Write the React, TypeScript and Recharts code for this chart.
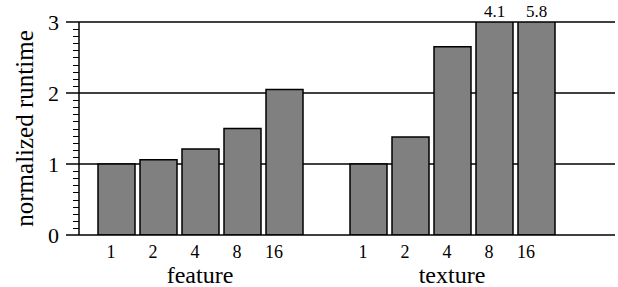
import { BarChart, Bar, XAxis, YAxis, CartesianGrid, LabelList, Label } from 'recharts';

const GROUPS = ['feature', 'texture'];
const THREADS = ['1', '2', '4', '8', '16'];
const FEATURE = [1.0, 1.06, 1.21, 1.5, 2.05];
const TEXTURE = [1.0, 1.38, 2.65, 4.1, 5.8];
const Y_MAX = 3;
const MAJOR_TICKS = [0, 1, 2, 3];
const GRID_LINES = [1, 2, 3];
const MINOR_PER_UNIT = 10;

const FONT = '"Liberation Serif", "Times New Roman", serif';

type Row = { id: string; label: string; group: string; mid: boolean; value: number | null; shown: number | null };

const makeRows = (group: string, values: number[]): Row[] =>
  values.map((v, i) => ({
    id: `${group}-${THREADS[i]}`,
    label: THREADS[i],
    group,
    mid: i === Math.floor(THREADS.length / 2),
    value: v,
    shown: Math.min(v, Y_MAX),
  }));

const data: Row[] = [
  ...makeRows(GROUPS[0], FEATURE),
  { id: 'gap', label: '', group: '', mid: false, value: null, shown: null },
  ...makeRows(GROUPS[1], TEXTURE),
];

// 0, 0.1, ... 3 so the axis can draw its minor ticks
const yTicks: number[] = [];
for (let i = 0; i <= Y_MAX * MINOR_PER_UNIT; i++) yTicks.push(i / MINOR_PER_UNIT);

const YTick = (props: any) => {
  const { x, y, payload } = props;
  const v = payload.value;
  const major = MAJOR_TICKS.some((m) => Math.abs(m - v) < 1e-6);
  const yy = Math.round(y) + 0.5;
  if (!major) {
    return <line x1={x - 6} y1={yy} x2={x} y2={yy} stroke="#000" strokeWidth={1} />;
  }
  return (
    <g>
      <line x1={x - 13} y1={y} x2={x} y2={y} stroke="#000" strokeWidth={1.5} />
      <text x={x - 20} y={y} dy={7.5} textAnchor="end" fontFamily={FONT} fontSize={22} fill="#000">
        {Math.round(v)}
      </text>
    </g>
  );
};

const XTick = (props: any) => {
  const { x, y, payload } = props;
  const row = data.find((d) => d.id === payload.value);
  if (!row || !row.label) return null;
  // the source labels sit a little left of the bar centres
  const dx = -5 * row.label.length;
  return (
    <g>
      <text x={x + dx} y={y} dy={22.5} textAnchor="middle" fontFamily={FONT} fontSize={18} fill="#000">
        {row.label}
      </text>
      {row.mid && (
        <text x={x} y={y} dy={47.5} textAnchor="middle" fontFamily={FONT} fontSize={24} fill="#000">
          {row.group}
        </text>
      )}
    </g>
  );
};

const OverflowLabel = (props: any) => {
  const { x, y, width, value } = props;
  if (value == null || value <= Y_MAX) return null;
  return (
    <text x={x + width / 2} y={y - 5} textAnchor="middle" fontFamily={FONT} fontSize={17} fill="#000">
      {value.toFixed(1)}
    </text>
  );
};

const YLabel = (props: any) => {
  const { viewBox } = props;
  const bx = 33; // baseline of the rotated text
  const cy = viewBox.y + viewBox.height / 2;
  return (
    <text
      x={bx}
      y={cy}
      transform={`rotate(-90 ${bx} ${cy})`}
      textAnchor="middle"
      fontFamily={FONT}
      fontSize={25}
      fill="#000"
    >
      normalized runtime
    </text>
  );
};

export default function App() {
  return (
    <div style={{ width: 618, height: 287, background: '#fff' }}>
      <style>{'body{margin:0}'}</style>
      <BarChart width={618} height={287} data={data} margin={{ top: 22, right: 3, bottom: 1, left: 0 }}>
        <CartesianGrid
          vertical={false}
          horizontalValues={GRID_LINES}
          stroke="#000"
          strokeWidth={1.5}
          strokeDasharray=""
        />
        <XAxis
          dataKey="id"
          interval={0}
          height={51}
          padding={{ left: 16, right: 58 }}
          tick={<XTick />}
          tickLine={false}
          tickSize={0}
          tickMargin={0}
          axisLine={{ stroke: '#000', strokeWidth: 1.5 }}
        />
        <YAxis
          width={79}
          domain={[0, Y_MAX]}
          allowDataOverflow
          ticks={yTicks}
          interval={0}
          tick={<YTick />}
          tickLine={false}
          tickSize={0}
          tickMargin={0}
          axisLine={{ stroke: '#000', strokeWidth: 1.5 }}
        >
          <Label content={<YLabel />} />
        </YAxis>
        <Bar dataKey="shown" fill="#808080" stroke="#000" strokeWidth={1.5} barSize={37} isAnimationActive={false}>
          <LabelList dataKey="value" content={<OverflowLabel />} />
        </Bar>
      </BarChart>
    </div>
  );
}
